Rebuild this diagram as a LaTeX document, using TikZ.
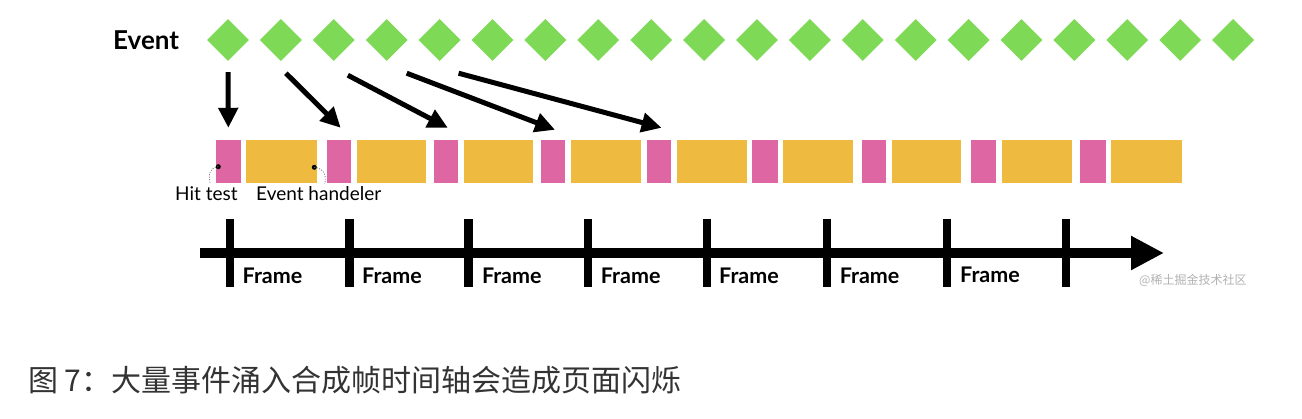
\documentclass[tikz,border=0pt]{standalone}
\usepackage{fontspec}
\setmainfont{Lato}
\newfontfamily\cjk{Noto Sans CJK SC}
\usetikzlibrary{arrows.meta,shapes.geometric,calc}
\definecolor{evgreen}{HTML}{7ED957}
\definecolor{htpink}{HTML}{DE67A3}
\definecolor{ehorange}{HTML}{EFBA40}
\begin{document}
\begin{tikzpicture}[x=1pt,y=-1pt,
  evt/.style={diamond, fill=evgreen, minimum width=42pt, minimum height=42pt, inner sep=0pt, aspect=1},
  hitbox/.style={fill=htpink, inner sep=0pt, minimum height=43pt},
  handbox/.style={fill=ehorange, inner sep=0pt, minimum height=43pt},
  evarrow/.style={line width=5pt, -{Triangle[length=20pt,width=19pt]}},
  tickbar/.style={fill=black, inner sep=0pt, minimum width=8.5pt, minimum height=68pt},
  framelbl/.style={anchor=base west, inner sep=0pt, font=\fontsize{21.5}{25}\selectfont\bfseries},
  smalllbl/.style={anchor=base west, inner sep=0pt, font=\fontsize{19}{22}\selectfont},
  dotmark/.style={circle, fill=black, inner sep=0pt, minimum size=5pt},
  leader/.style={gray, line width=0.8pt, dash pattern=on 1pt off 1.5pt}
]
\fill[white] (0,0) rectangle (1302,418);
\useasboundingbox (0,0) rectangle (1302,418);

% Event label and diamonds
\node[anchor=base west, inner sep=0pt, font=\fontsize{26}{30}\selectfont\bfseries] (evlbl) at (113,49.3) {Event};
\foreach \i in {1,...,20}
  \node[evt] (d\i) at ({228+(\i-1)*52.9},40) {};

% hit test boxes
\foreach \l/\r [count=\i] in {216/240.7,326.7/350.7,434/457.7,540.7/565.4,646.6/670.6,752/777.6,861.6/885.6,970.5/996,1080/1105.8}{
  \pgfmathsetmacro\w{\r-\l}
  \pgfmathsetmacro\c{(\r+\l)/2}
  \node[hitbox, minimum width=\w pt] (p\i) at (\c,161.5) {};
}
% handler boxes
\foreach \l/\r [count=\i] in {246/316.7,356.7/426,464/533,571/641,676.6/746.7,783/853,891.6/961,1001.5/1071.6,1111/1181.5}{
  \pgfmathsetmacro\w{\r-\l}
  \pgfmathsetmacro\c{(\r+\l)/2}
  \node[handbox, minimum width=\w pt] (o\i) at (\c,161.5) {};
}

% event arrows
\draw[evarrow] ($(d1.south)+(0,11)$) -- ($(p1.north)+(0,-12)$);
\draw[evarrow] ($(d2.south)+(5,12)$) -- ($(p2.north)+(2,-12)$);
\draw[evarrow] ($(d3.south)+(14,14)$) -- ($(p3.north)+(2,-12)$);
\draw[evarrow] ($(d4.south)+(20,12)$) -- ($(p4.north)+(2,-10)$);
\draw[evarrow] ($(d5.south)+(19,12)$) -- ($(p5.north)+(3,-12)$);

% labels for hit test / event handler
\node[dotmark] (h1) at (218.3,166.7) {};
\node[dotmark] (h2) at (314.3,167.3) {};
\node[smalllbl] (lh) at (175,200) {Hit test};
\node[smalllbl] (le) at (256,200) {Event handeler};
\draw[leader] (h1.center) .. controls +(-10,1) and +(-2,-8) .. ($(lh.north)+(4,-2)$);
\draw[leader] (h2.center) .. controls +(10,1) and +(2,-8) .. ($(le.north)+(6,-2)$);

% timeline
\coordinate (tstart) at (200,253);
\coordinate (tend) at (1164,253);
\draw[line width=9.5pt, -{Triangle[length=33pt,width=32pt]}] (tstart) -- (tend);
\foreach \x [count=\i] in {230,349.6,468.6,588,706.8,827,947,1066}
  \node[tickbar] (t\i) at (\x,253) {};
\foreach \x/\b [count=\i] in {242.5/283,362/283,481.8/283,600.7/283,719/283,839.6/283,960/282}
  \node[framelbl] (f\i) at (\x,\b) {Frame};

% watermark
\node[anchor=west, inner sep=0pt, text=black!30, font=\cjk\fontsize{12}{14}\selectfont] (wm) at (1139,280) {@稀土掘金技术社区};

% caption
\node[anchor=base west, inner sep=0pt, text=black!80, font=\cjk\fontsize{30}{35}\selectfont] (cap) at (28,391) {图 7：大量事件涌入合成帧时间轴会造成页面闪烁};
\end{tikzpicture}
\end{document}
